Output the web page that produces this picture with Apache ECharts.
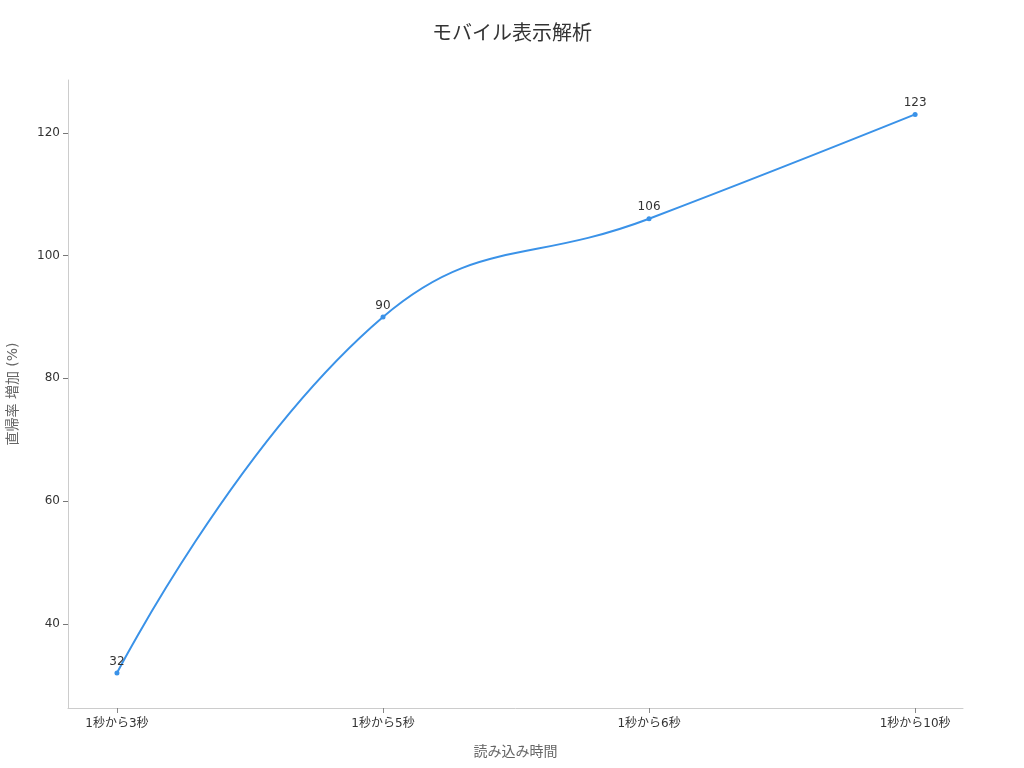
<!DOCTYPE html>
<html>
<head>
<meta charset="utf-8">
<script src="https://cdn.jsdelivr.net/npm/echarts@6/dist/echarts.min.js"></script>
<style>html,body{margin:0;padding:0;background:#fff;}#c{width:1024px;height:768px;}</style>
</head>
<body>
<div id="c"></div>
<script>
var categories = ['1秒から3秒', '1秒から5秒', '1秒から6秒', '1秒から10秒'];
var bounceIncrease = [32, 90, 106, 123];
var yTicks = [40, 60, 80, 100, 120];

var FONT = '"DejaVu Sans", "Noto Sans CJK JP", sans-serif';
var points = bounceIncrease.map(function (v, i) { return [i, v]; });
var xIdx = categories.map(function (c, i) { return i; });

var chart = echarts.init(document.getElementById('c'));
chart.setOption({
  animation: false,
  textStyle: { fontFamily: FONT },
  title: {
    text: 'モバイル表示解析',
    left: 'center',
    top: 20,
    textStyle: { fontFamily: FONT, fontSize: 20, fontWeight: 'normal', color: '#333' }
  },
  grid: { left: 68, right: 61, top: 80, bottom: 60, containLabel: false, outerBoundsMode: 'none' },
  xAxis: {
    type: 'value',
    min: -0.184,
    max: 3.18,
    name: '読み込み時間',
    nameLocation: 'middle',
    nameGap: 37,
    nameTextStyle: { fontFamily: FONT, fontSize: 14, color: '#666' },
    axisLine: { show: true, onZero: false, lineStyle: { color: '#ccc' } },
    axisTick: { show: true, customValues: xIdx, length: 5, lineStyle: { color: '#888' } },
    axisLabel: {
      customValues: xIdx,
      color: '#333', fontSize: 12, fontFamily: FONT, margin: 10,
      formatter: function (v) { return categories[Math.round(v)]; }
    },
    splitLine: { show: false }
  },
  yAxis: {
    type: 'value',
    min: 26.3,
    max: 128.6,
    name: '直帰率 増加 (%)',
    nameLocation: 'middle',
    nameGap: 48,
    nameTextStyle: { fontFamily: FONT, fontSize: 14, color: '#666' },
    axisLine: { show: true, onZero: false, lineStyle: { color: '#ccc' } },
    axisTick: { show: true, customValues: yTicks, length: 5, lineStyle: { color: '#777' } },
    axisLabel: { customValues: yTicks, color: '#333', fontSize: 12, fontFamily: FONT, margin: 8 },
    splitLine: { show: false }
  },
  series: [{
    type: 'line',
    data: points,
    smooth: 0.45,
    symbol: 'circle',
    symbolSize: 5,
    lineStyle: { color: '#3a92e8', width: 2 },
    itemStyle: { color: '#3a92e8' },
    label: { show: true, position: 'top', distance: 3, color: '#333', fontSize: 12, fontFamily: FONT,
      formatter: function (p) { return p.value[1]; } }
  }]
});
</script>
</body>
</html>
